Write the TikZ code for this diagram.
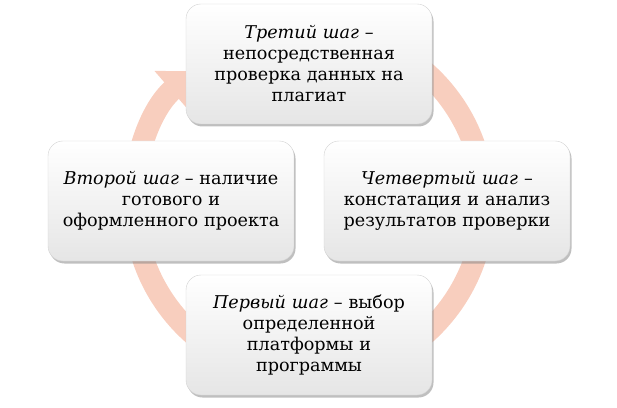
\documentclass[tikz,border=0pt]{standalone}
\usepackage{fontspec}
\setmainfont{DejaVu Serif}
\usetikzlibrary{shadows,arrows.meta}
\definecolor{ringpink}{RGB}{248,206,190}

\begin{document}
\begin{tikzpicture}[x=1pt,y=1pt,
	stepbox/.style={draw=gray!35, rounded corners=15pt, top color=white, bottom color=gray!20,
		minimum width=246pt, minimum height=120pt, text width=238pt, align=center,
		font=\fontsize{17.6}{21}\selectfont,
		drop shadow={opacity=0.5, shadow xshift=1.5pt, shadow yshift=-2.5pt}},
	ring/.style={line width=22pt, ringpink, -{Triangle[width=50pt,length=30pt]}}]
	\useasboundingbox (0,0) rectangle (617,407);
	\coordinate (c) at (309,204);
	
	\draw[ring] (c) ++(100:175) arc[start angle=100, end angle=-229, radius=175];	%cycle
	%
	\node[stepbox] (third)  at (309,343) {\textit{Третий шаг}~–\\непосредственная\\проверка данных на\\плагиат};
	\node[stepbox] (second) at (171,206) {\textit{Второй шаг}~– наличие\\готового и\\оформленного проекта};
	\node[stepbox] (fourth) at (447,206) {\textit{Четвертый шаг}~–\\констатация и анализ\\результатов проверки};
	\node[stepbox] (first)  at (309,72)  {\textit{Первый шаг}~– выбор\\определенной\\платформы и\\программы};
\end{tikzpicture}
\end{document}
